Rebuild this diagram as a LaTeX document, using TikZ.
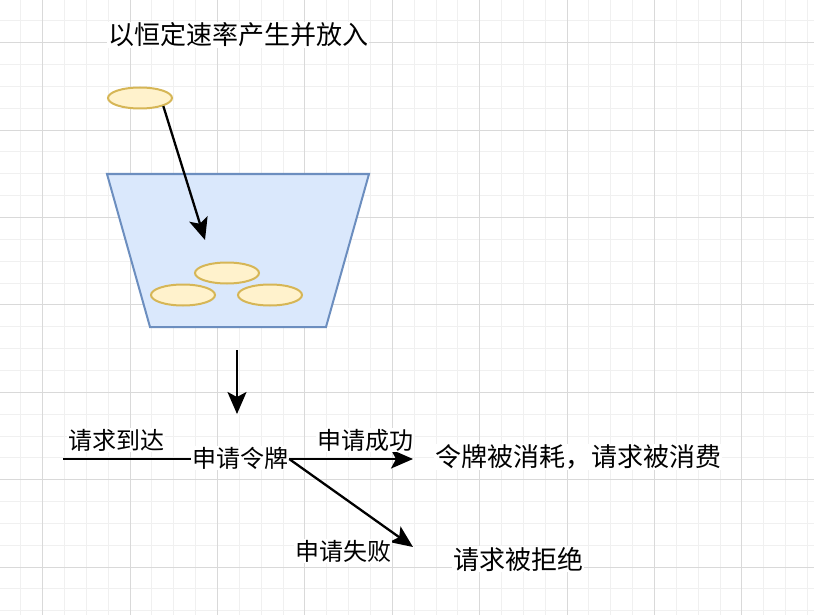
\documentclass[tikz,border=0pt]{standalone}
\usepackage{fontspec}
\setmainfont{Noto Sans CJK SC}
\usetikzlibrary{arrows.meta,shapes.geometric}
\tikzset{
  minorgrid/.style={draw=black!6,line width=0.8pt},
  majorgrid/.style={draw=black!15,line width=0.8pt},
  coin/.style={ellipse,draw={rgb,255:red,214;green,182;blue,86},fill={rgb,255:red,255;green,242;blue,204},line width=2pt,minimum width=64pt,minimum height=21pt,inner sep=0pt},
  bucketstyle/.style={draw={rgb,255:red,108;green,142;blue,191},fill={rgb,255:red,218;green,232;blue,252},line width=2pt,line join=miter},
  arr/.style={line width=2.3pt,-{Stealth[length=22pt,width=19pt,inset=5pt]}},
  plain/.style={line width=2.3pt},
  txt/.style={font=\fontsize{26pt}{30pt}\selectfont,fill=white,inner sep=1pt},
  lbl/.style={font=\fontsize{24pt}{28pt}\selectfont,fill=white,inner sep=1pt},
}
\begin{document}
\begin{tikzpicture}[x=1pt,y=-1pt]
\useasboundingbox (0,0) rectangle (814,615);
\fill[white] (0,0) rectangle (814,615);
% grid
\foreach \i in {-1,...,36} {
  \pgfmathsetmacro\gx{42.6+21.85*\i}
  \draw[minorgrid] (\gx,0) -- (\gx,615);
}
\foreach \i in {-1,...,27} {
  \pgfmathsetmacro\gy{42.6+21.85*\i}
  \draw[minorgrid] (0,\gy) -- (814,\gy);
}
\foreach \i in {0,...,8} {
  \pgfmathsetmacro\gx{42.6+87.4*\i}
  \draw[majorgrid] (\gx,0) -- (\gx,615);
}
\foreach \i in {0,...,6} {
  \pgfmathsetmacro\gy{42.6+87.4*\i}
  \draw[majorgrid] (0,\gy) -- (814,\gy);
}
% title
\node[txt] (title) at (238,35) {以恒定速率产生并放入};
% falling token
\node[coin] (c0) at (140,98) {};
% bucket
\draw[bucketstyle] (107,174) -- (369,174) -- (326,327) -- (150,327) -- cycle;
\node[coin] (c1) at (227,273) {};
\node[coin] (c2) at (183,295) {};
\node[coin] (c3) at (270,295) {};
\coordinate (drop) at (205,240);
\draw[arr] (c0.south east) -- (drop);
% down arrow
\coordinate (outA) at (237,350);
\coordinate (inA) at (237,414);
\draw[arr] (outA) -- (inA);
% request flow
\node[lbl] (req) at (240,458) {申请令牌};
\coordinate (src) at (63,459);
\coordinate (okend) at (413,459);
\coordinate (failend) at (413,547);
\draw[plain] (src) -- (req.west |- src);
\draw[arr] (req.east |- src) -- (okend);
\draw[arr] (req.east |- src) -- (failend);
\node[lbl] (arrive) at (116,440) {请求到达};
\node[lbl] (ok) at (365,440) {申请成功};
\node[lbl] (fail) at (343,551) {申请失败};
\node[txt] (consumed) at (578,457) {令牌被消耗，请求被消费};
\node[txt] (rejected) at (518,559) {请求被拒绝};
\end{tikzpicture}
\end{document}
